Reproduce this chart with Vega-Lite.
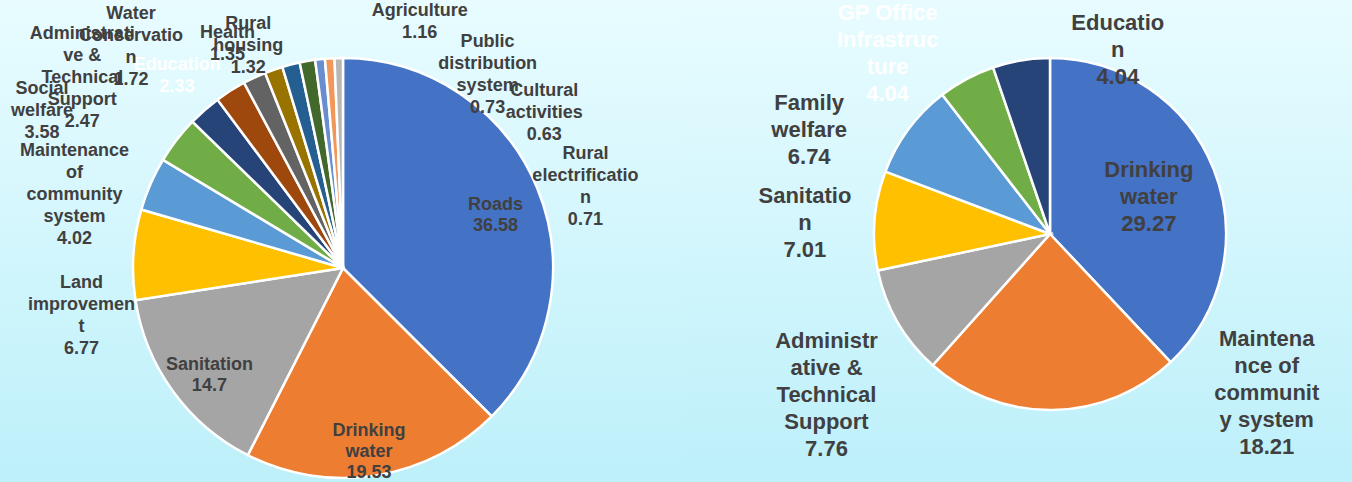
{
  "$schema": "https://vega.github.io/schema/vega-lite/v6.json",
  "autosize": {"type": "pad"},
  "padding": 0,
  "background": "#bdf0fa",
  "spacing": 0,
  "bounds": "flush",
  "resolve": {"scale": {"color": "independent", "theta": "independent"}},
  "config": {
    "view": {"stroke": null},
    "text": {"font": "Liberation Sans", "fontWeight": "bold"}
  },
  "datasets": {
    "left": [
      {"category": "Roads", "value": 36.58, "label": "Roads\n36.58"},
      {"category": "Drinking water", "value": 19.53, "label": "Drinking\nwater\n19.53"},
      {"category": "Sanitation", "value": 14.7, "label": "Sanitation\n14.7"},
      {"category": "Land improvement", "value": 6.77, "label": "Land\nimprovemen\nt\n6.77"},
      {"category": "Maintenance of community system", "value": 4.02, "label": "Maintenance\nof\ncommunity\nsystem\n4.02"},
      {"category": "Social welfare", "value": 3.58, "label": "Social\nwelfare\n3.58"},
      {"category": "Administrative & Technical Support", "value": 2.47, "label": "Administrati\nve &\nTechnical\nSupport\n2.47"},
      {"category": "Education", "value": 2.33, "label": "Education\n2.33"},
      {"category": "Water Conservation", "value": 1.72, "label": "Water\nConservatio\nn\n1.72"},
      {"category": "Health", "value": 1.35, "label": "Health\n1.35"},
      {"category": "Rural housing", "value": 1.32, "label": "Rural\nhousing\n1.32"},
      {"category": "Agriculture", "value": 1.16, "label": "Agriculture\n1.16"},
      {"category": "Public distribution system", "value": 0.73, "label": "Public\ndistribution\nsystem\n0.73"},
      {"category": "Rural electrification", "value": 0.71, "label": "Rural\nelectrificatio\nn\n0.71"},
      {"category": "Cultural activities", "value": 0.63, "label": "Cultural\nactivities\n0.63"}
    ],
    "right": [
      {"category": "Drinking water", "value": 29.27, "label": "Drinking\nwater\n29.27"},
      {"category": "Maintenance of community system", "value": 18.21, "label": "Maintena\nnce of\ncommunit\ny system\n18.21"},
      {"category": "Administrative & Technical Support", "value": 7.76, "label": "Administr\native &\nTechnical\nSupport\n7.76"},
      {"category": "Sanitation", "value": 7.01, "label": "Sanitatio\nn\n7.01"},
      {"category": "Family welfare", "value": 6.74, "label": "Family\nwelfare\n6.74"},
      {"category": "GP Office Infrastructure", "value": 4.04, "label": "GP Office\nInfrastruc\nture\n4.04"},
      {"category": "Education", "value": 4.04, "label": "Educatio\nn\n4.04"}
    ]
  },
  "hconcat": [
    {
      "width": 686,
      "height": 536,
      "view": {"stroke": null, "fill": {"gradient": "linear", "x1": 0, "y1": 0, "x2": 0, "y2": 1, "stops": [{"offset": 0, "color": "#e8fcff"}, {"offset": 0.9, "color": "#bdf0fa"}, {"offset": 1, "color": "#b9effa"}]}},
      "data": {"name": "left"},
      "resolve": {"scale": {"theta": "independent"}},
      "layer": [
        {
          "mark": {"type": "arc", "outerRadius": 210, "stroke": "white", "strokeWidth": 2.5},
          "encoding": {
            "theta": {"field": "value", "type": "quantitative", "stack": true},
            "order": {"field": "value", "sort": "descending"},
            "color": {
              "field": "category",
              "type": "nominal",
              "legend": null,
              "scale": {
                "domain": ["Roads", "Drinking water", "Sanitation", "Land improvement", "Maintenance of community system", "Social welfare", "Administrative & Technical Support", "Education", "Water Conservation", "Health", "Rural housing", "Agriculture", "Public distribution system", "Rural electrification", "Cultural activities"],
                "range": ["#4472C4", "#ED7D31", "#A5A5A5", "#FFC000", "#5B9BD5", "#70AD47", "#264478", "#9E480E", "#636363", "#997300", "#255E91", "#43682B", "#698ED0", "#F1975A", "#B7B7B7"]
              }
            }
          }
        },
        {
          "mark": {"type": "text", "clip": true, "radius": 165, "fontSize": 18, "lineHeight": 21, "lineBreak": "\n", "color": "#404040"},
          "encoding": {
            "theta": {"field": "value", "type": "quantitative", "stack": true},
            "order": {"field": "value", "sort": "descending"},
            "text": {"condition": {"test": "indexof(['Roads','Drinking water','Sanitation'], datum.category) >= 0", "field": "label"}, "value": ""}
          }
        },
        {
          "mark": {"type": "text", "clip": true, "radius": 262, "thetaOffset": -0.12, "fontSize": 18, "lineHeight": 22, "lineBreak": "\n"},
          "encoding": {
            "theta": {"field": "value", "type": "quantitative", "stack": true},
            "order": {"field": "value", "sort": "descending"},
            "text": {"condition": {"test": "indexof(['Land improvement','Education','Health','Rural housing'], datum.category) >= 0", "field": "label"}, "value": ""},
            "color": {"condition": {"test": "datum.category === 'Education'", "value": "#ffffff"}, "value": "#404040"}
          }
        },
        {
          "mark": {"type": "text", "clip": true, "radius": 331, "thetaOffset": -0.26, "fontSize": 18, "lineHeight": 22, "lineBreak": "\n", "color": "#404040"},
          "encoding": {
            "theta": {"field": "value", "type": "quantitative", "stack": true},
            "order": {"field": "value", "sort": "descending"},
            "text": {"condition": {"test": "datum.category === 'Water Conservation'", "field": "label"}, "value": ""}
          }
        },
        {
          "mark": {"type": "text", "clip": true, "radius": 293, "fontSize": 18, "lineHeight": 22, "lineBreak": "\n", "color": "#404040"},
          "encoding": {
            "theta": {"field": "value", "type": "quantitative", "stack": true},
            "order": {"field": "value", "sort": "descending"},
            "text": {"condition": {"test": "datum.category === 'Maintenance of community system'", "field": "label"}, "value": ""}
          }
        },
        {
          "mark": {"type": "text", "clip": true, "radius": 350, "thetaOffset": -0.12, "fontSize": 18, "lineHeight": 22, "lineBreak": "\n", "color": "#404040"},
          "encoding": {
            "theta": {"field": "value", "type": "quantitative", "stack": true},
            "order": {"field": "value", "sort": "descending"},
            "text": {"condition": {"test": "indexof(['Social welfare','Administrative & Technical Support'], datum.category) >= 0", "field": "label"}, "value": ""}
          }
        },
        {
          "transform": [{"filter": {"field": "category", "oneOf": ["Agriculture", "Public distribution system", "Cultural activities", "Rural electrification"]}}],
          "mark": {"type": "text", "clip": true, "radius": 268, "fontSize": 18, "lineHeight": 22, "lineBreak": "\n", "color": "#404040"},
          "encoding": {
            "theta": {
              "field": "category",
              "type": "nominal",
              "scale": {"type": "point", "domain": ["Agriculture", "Public distribution system", "Cultural activities", "Rural electrification"], "range": [0.29, 1.13], "padding": 0}
            },
            "text": {"field": "label"}
          }
        }
      ]
    },
    {
      "width": 728,
      "height": 468,
      "view": {"stroke": null, "fill": {"gradient": "linear", "x1": 0, "y1": 0, "x2": 0, "y2": 1, "stops": [{"offset": 0, "color": "#e8fcff"}, {"offset": 1, "color": "#bef0fa"}]}},
      "data": {"name": "right"},
      "layer": [
        {
          "mark": {"type": "arc", "outerRadius": 176, "stroke": "white", "strokeWidth": 2.5},
          "encoding": {
            "theta": {"field": "value", "type": "quantitative", "stack": true},
            "order": {"field": "value", "sort": "descending"},
            "color": {
              "field": "category",
              "type": "nominal",
              "legend": null,
              "scale": {
                "domain": ["Drinking water", "Maintenance of community system", "Administrative & Technical Support", "Sanitation", "Family welfare", "GP Office Infrastructure", "Education"],
                "range": ["#4472C4", "#ED7D31", "#A5A5A5", "#FFC000", "#5B9BD5", "#70AD47", "#264478"]
              }
            }
          }
        },
        {
          "mark": {"type": "text", "clip": true, "radius": 118, "thetaOffset": -0.2, "fontSize": 22, "lineHeight": 27, "lineBreak": "\n", "color": "#404040"},
          "encoding": {
            "theta": {"field": "value", "type": "quantitative", "stack": true},
            "order": {"field": "value", "sort": "descending"},
            "text": {"condition": {"test": "datum.category === 'Drinking water'", "field": "label"}, "value": ""}
          }
        },
        {
          "mark": {"type": "text", "clip": true, "radius": 248, "thetaOffset": 0.077, "fontSize": 22, "lineHeight": 27, "lineBreak": "\n", "color": "#404040"},
          "encoding": {
            "theta": {"field": "value", "type": "quantitative", "stack": true},
            "order": {"field": "value", "sort": "descending"},
            "text": {"condition": {"test": "indexof(['Administrative & Technical Support','Sanitation'], datum.category) >= 0", "field": "label"}, "value": ""}
          }
        },
        {
          "mark": {"type": "text", "clip": true, "radius": 274, "thetaOffset": -0.14, "fontSize": 22, "lineHeight": 27, "lineBreak": "\n"},
          "encoding": {
            "theta": {"field": "value", "type": "quantitative", "stack": true},
            "order": {"field": "value", "sort": "descending"},
            "text": {"condition": {"test": "indexof(['Family welfare','GP Office Infrastructure'], datum.category) >= 0", "field": "label"}, "value": ""},
            "color": {"condition": {"test": "datum.category === 'GP Office Infrastructure'", "value": "#ffffff"}, "value": "#404040"}
          }
        },
        {
          "mark": {"type": "text", "clip": true, "radius": 241, "thetaOffset": -1.105, "fontSize": 22, "lineHeight": 27, "lineBreak": "\n", "color": "#404040"},
          "encoding": {
            "theta": {"field": "value", "type": "quantitative", "stack": true},
            "order": {"field": "value", "sort": "descending"},
            "text": {"condition": {"test": "datum.category === 'Maintenance of community system'", "field": "label"}, "value": ""}
          }
        },
        {
          "mark": {"type": "text", "clip": true, "radius": 222, "thetaOffset": 0.475, "fontSize": 22, "lineHeight": 27, "lineBreak": "\n", "color": "#404040"},
          "encoding": {
            "theta": {"field": "value", "type": "quantitative", "stack": true},
            "order": {"field": "value", "sort": "descending"},
            "text": {"condition": {"test": "datum.category === 'Education'", "field": "label"}, "value": ""}
          }
        }
      ]
    }
  ]
}
